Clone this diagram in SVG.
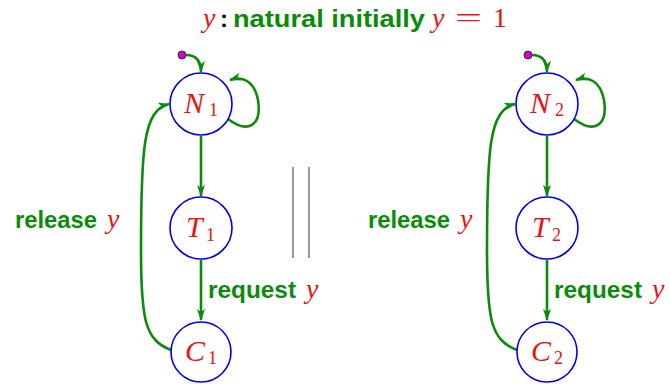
<svg xmlns="http://www.w3.org/2000/svg" width="670" height="384" viewBox="0 0 670 384">
<defs>
<marker id="ah" viewBox="0 0 12 8" refX="11" refY="4" markerWidth="12" markerHeight="8" markerUnits="userSpaceOnUse" orient="auto">
<path d="M0,0 L12,4 L0,8 L3,4 Z" fill="#0a8c0a"/>
</marker>
</defs>
<style>
.node{fill:#fff;stroke:#0000ee;stroke-width:1.6}
.edge{fill:none;stroke:#0a8c0a;stroke-width:2.6;marker-end:url(#ah)}
.init{fill:#d400d4;stroke:#333;stroke-width:1}
.lbl{font-family:"Liberation Sans",Arial,sans-serif;font-weight:bold;fill:#0a8c0a;font-size:24px}
.m{font-family:"Liberation Serif",serif;font-style:italic;fill:#ee1111;font-size:28px}
.nl{font-family:"Liberation Serif",serif;font-style:italic;fill:#ee1111;font-size:30px}
.sub{font-family:"Liberation Serif",serif;fill:#ee1111;font-size:18px}
.mr{font-family:"Liberation Serif",serif;fill:#ee1111;font-size:28px}
.bar{stroke:#555;stroke-width:1.2}
</style>
<text x="203" y="27" class="m">y</text>
<text x="220" y="27" font-family="Liberation Sans,sans-serif" font-weight="bold" font-size="24" fill="#000">:</text>
<text x="233" y="27" class="lbl" font-size="26" textLength="192" lengthAdjust="spacingAndGlyphs">natural initially</text>
<text x="432" y="27" class="m">y</text>
<text x="455" y="27" class="mr" textLength="27" lengthAdjust="spacingAndGlyphs">=</text>
<text x="493" y="27" class="mr">1</text>

<g id="connectors">
<path class="edge" d="M186,55 C196,55 201,60 201,72"/>
<path class="edge" d="M228,119 C248,134 262,126 258,100 C254,80 242,76 230,80"/>
<path class="edge" d="M201,136 L201,196"/>
<path class="edge" d="M201,260 L201,320"/>
<path class="edge" d="M171,350 C145,340 141,320 141,250 C141,150 143,110 169,104"/>
<path class="edge" d="M532,55 C542,55 547,60 547,72"/>
<path class="edge" d="M574,119 C594,134 608,126 604,100 C600,80 588,76 576,80"/>
<path class="edge" d="M547,136 L547,196"/>
<path class="edge" d="M547,260 L547,320"/>
<path class="edge" d="M517,350 C491,340 487,320 487,250 C487,150 489,110 515,104"/>
</g>

<g id="init1"><circle class="init" cx="182" cy="55" r="4"/></g>
<g id="init2"><circle class="init" cx="528" cy="55" r="4"/></g>

<g id="N1"><circle class="node" cx="201" cy="104" r="31"/><text x="184" y="113" class="nl">N</text><text x="209" y="116" class="sub">1</text></g>
<g id="T1"><circle class="node" cx="201" cy="228" r="31"/><text x="186" y="237" class="nl">T</text><text x="206" y="241" class="sub">1</text></g>
<g id="C1"><circle class="node" cx="201" cy="352" r="30"/><text x="185" y="361" class="nl">C</text><text x="208" y="364" class="sub">1</text></g>
<g id="N2"><circle class="node" cx="547" cy="104" r="31"/><text x="530" y="113" class="nl">N</text><text x="555" y="116" class="sub">2</text></g>
<g id="T2"><circle class="node" cx="547" cy="228" r="31"/><text x="532" y="237" class="nl">T</text><text x="552" y="241" class="sub">2</text></g>
<g id="C2"><circle class="node" cx="547" cy="352" r="30"/><text x="531" y="361" class="nl">C</text><text x="554" y="364" class="sub">2</text></g>

<text x="15" y="228" class="lbl" textLength="82" lengthAdjust="spacingAndGlyphs">release</text>
<text x="107" y="228" class="m">y</text>
<text x="208" y="298" class="lbl" textLength="88" lengthAdjust="spacingAndGlyphs">request</text>
<text x="306" y="298" class="m">y</text>
<text x="368" y="228" class="lbl" textLength="82" lengthAdjust="spacingAndGlyphs">release</text>
<text x="460" y="228" class="m">y</text>
<text x="554" y="298" class="lbl" textLength="88" lengthAdjust="spacingAndGlyphs">request</text>
<text x="652" y="298" class="m">y</text>

<line class="bar" x1="293" y1="167" x2="293" y2="258"/>
<line class="bar" x1="309" y1="167" x2="309" y2="258"/>
</svg>
